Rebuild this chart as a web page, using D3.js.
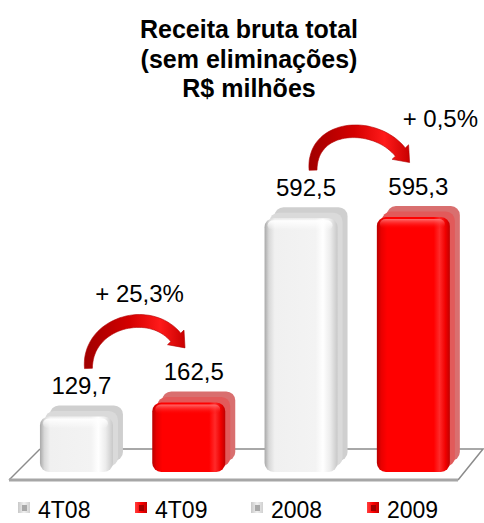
<!DOCTYPE html>
<html>
<head>
<meta charset="utf-8">
<script src="https://cdn.jsdelivr.net/npm/d3@7"></script>
<style>
html,body{margin:0;padding:0;background:#fff;}
svg{display:block;}
text{font-family:"Liberation Sans",Arial,sans-serif;}
</style>
</head>
<body>
<svg id="chart" width="484" height="523"></svg>
<script>
// ---- data ----
const titleLines = ["Receita bruta total", "(sem eliminações)", "R$ milhões"];
const categories = ["4T08", "4T09", "2008", "2009"];
const values = [129.7, 162.5, 592.5, 595.3];
const valueLabels = ["129,7", "162,5", "592,5", "595,3"];
const seriesKind = ["white", "red", "white", "red"];
const changeFrom = [0, 2];
const changeTo = [1, 3];
const changeLabels = ["+ 25,3%", "+ 0,5%"];

// ---- layout ----
const W = 484, H = 523;
const svg = d3.select("#chart");
const defs = svg.append("defs");

const x = d3.scaleBand().domain(categories).range([20.3, 469.5]).paddingInner(0.35).paddingOuter(0.175);
const y = d3.scaleLinear().domain([0, 600]).range([472, 215]);
const bw = x.bandwidth();
const DX = 10, DY = -11, R = 9;

// gradients
function grad(id, stops, x2 = "100%", y2 = "0%") {
  const g = defs.append("linearGradient").attr("id", id).attr("x1", "0%").attr("y1", "0%").attr("x2", x2).attr("y2", y2);
  stops.forEach(s => g.append("stop").attr("offset", s[0]).attr("stop-color", s[1]));
}
grad("frontWhite", [["0%", "#a8a8a8"], ["6%", "#d8d8d8"], ["14%", "#f0f0f0"], ["70%", "#f3f3f3"], ["80%", "#ffffff"], ["90%", "#ececec"], ["100%", "#c8c8c8"]]);
grad("frontRed", [["0%", "#b80000"], ["6%", "#e80000"], ["14%", "#ff0000"], ["78%", "#ff0000"], ["86%", "#ff2a2a"], ["94%", "#f00000"], ["100%", "#c00000"]]);
grad("topWhite", [["0%", "#ffffff"], ["100%", "rgba(255,255,255,0)"]], "0%", "100%");
grad("topRed", [["0%", "rgba(255,120,120,0.9)"], ["100%", "rgba(255,0,0,0)"]], "0%", "100%");
grad("arrowGrad", [["0%", "#a00000"], ["45%", "#d40000"], ["75%", "#ff1a1a"], ["100%", "#c80000"]]);
grad("swWhite", [["0%", "#c8c8c8"], ["50%", "#f0f0f0"], ["100%", "#d0d0d0"]]);
grad("swRed", [["0%", "#ff4040"], ["50%", "#ff0000"], ["100%", "#c00000"]]);

// floor
const floorPts = [[9, 480], [458, 480], [483, 449], [40, 449]];
svg.append("path")
  .attr("d", "M" + floorPts.map(p => p.join(",")).join("L") + "Z")
  .attr("fill", "#fff").attr("stroke", "none");
svg.append("path").attr("d", `M40,449L483,449L458,480`).attr("fill", "none").attr("stroke", "#8c8c8c").attr("stroke-width", 1.5);
svg.append("path").attr("d", `M40,449L9,480`).attr("fill", "none").attr("stroke", "#8c8c8c").attr("stroke-width", 1.5);
svg.append("path").attr("d", `M9,480L458,480`).attr("fill", "none").attr("stroke", "#a6a6a6").attr("stroke-width", 3);

// bars
const bars = svg.append("g").selectAll("g").data(categories).join("g");
bars.append("rect")
  .attr("x", d => x(d) + DX).attr("y", (d, i) => y(values[i]) + DY)
  .attr("width", bw).attr("height", (d, i) => y(0) - y(values[i]))
  .attr("rx", R).attr("ry", R)
  .attr("fill", (d, i) => seriesKind[i] === "red" ? "#d96f6f" : "#cfcfcf");
bars.append("rect")
  .attr("x", d => x(d) + DX * 0.5).attr("y", (d, i) => y(values[i]) + DY * 0.5)
  .attr("width", bw).attr("height", (d, i) => y(0) - y(values[i]))
  .attr("rx", R).attr("ry", R)
  .attr("fill", (d, i) => seriesKind[i] === "red" ? "#e25a5a" : "#dadada");
bars.append("rect")
  .attr("x", d => x(d)).attr("y", (d, i) => y(values[i]))
  .attr("width", bw).attr("height", (d, i) => y(0) - y(values[i]))
  .attr("rx", R).attr("ry", R)
  .attr("fill", (d, i) => seriesKind[i] === "red" ? "url(#frontRed)" : "url(#frontWhite)");
bars.append("rect")
  .attr("x", d => x(d) + 3).attr("y", (d, i) => y(values[i]) + 2)
  .attr("width", bw - 8).attr("height", 10)
  .attr("rx", 6).attr("ry", 6)
  .attr("fill", (d, i) => seriesKind[i] === "red" ? "url(#topRed)" : "url(#topWhite)");

// value labels
const labelY = i => y(values[i]) - 22;
svg.append("g").selectAll("text").data(categories).join("text")
  .attr("x", d => x(d) + bw / 2 + 5)
  .attr("y", (d, i) => labelY(i))
  .attr("text-anchor", "middle")
  .attr("font-size", 24)
  .attr("fill", "#000")
  .text((d, i) => valueLabels[i]);

// arrows
function arrowPath(p0, p3) {
  const p1 = [p0[0] - 2, p0[1] - 46];
  const p2 = [p3[0] - 26, p3[1] - 32];
  const bez = t => {
    const u = 1 - t;
    return [
      u*u*u*p0[0] + 3*u*u*t*p1[0] + 3*u*t*t*p2[0] + t*t*t*p3[0],
      u*u*u*p0[1] + 3*u*u*t*p1[1] + 3*u*t*t*p2[1] + t*t*t*p3[1]
    ];
  };
  const N = 40, left = [], right = [];
  for (let k = 0; k <= N; k++) {
    const t = k / N;
    const a = bez(Math.max(0, t - 0.01)), b = bez(Math.min(1, t + 0.01));
    let tx = b[0] - a[0], ty = b[1] - a[1];
    const L = Math.hypot(tx, ty); tx /= L; ty /= L;
    const nx = -ty, ny = tx;
    const w = (8 + 5 * Math.sin(Math.min(1, t * 1.3) * Math.PI / 2)) / 2;
    const c = bez(t);
    left.push([c[0] + nx * w, c[1] + ny * w]);
    right.push([c[0] - nx * w, c[1] - ny * w]);
  }
  // head
  const e = bez(1), e0 = bez(0.97);
  let tx = e[0] - e0[0], ty = e[1] - e0[1];
  const L = Math.hypot(tx, ty); tx /= L; ty /= L;
  const nx = -ty, ny = tx, hw = 11, hl = 14;
  const h1 = [e[0] + nx * hw, e[1] + ny * hw];
  const h2 = [e[0] - nx * hw, e[1] - ny * hw];
  const tip = [e[0] + tx * hl, e[1] + ty * hl];
  const pts = left.concat([h1, tip, h2]).concat(right.reverse());
  return "M" + pts.map(p => p[0].toFixed(1) + "," + p[1].toFixed(1)).join("L") + "Z";
}
const arrows = svg.append("g");
changeFrom.forEach((f, k) => {
  const t = changeTo[k];
  const p0 = [x(categories[f]) + bw / 2 + 12, labelY(f) - 26];
  const p3 = [x(categories[t]) + bw / 2 - 13, labelY(t) - 43];
  arrows.append("path").attr("d", arrowPath(p0, p3))
    .attr("fill", "url(#arrowGrad)").attr("stroke", "#b00000").attr("stroke-width", 0.6);
});

// change labels
const chg = svg.append("g");
chg.append("text")
  .attr("x", (x(categories[changeFrom[0]]) + x(categories[changeTo[0]])) / 2 + bw / 2 + 7)
  .attr("y", labelY(changeTo[0]) - 78)
  .attr("text-anchor", "middle").attr("font-size", 24).text(changeLabels[0]);
chg.append("text")
  .attr("x", x(categories[changeTo[1]]) + bw / 2 + 27)
  .attr("y", labelY(changeTo[1]) - 68)
  .attr("text-anchor", "middle").attr("font-size", 24).text(changeLabels[1]);

// title
svg.append("g").selectAll("text").data(titleLines).join("text")
  .attr("x", 249).attr("y", (d, i) => 38 + i * 29.5)
  .attr("text-anchor", "middle")
  .attr("font-size", 25).attr("font-weight", "bold")
  .text(d => d);

// legend
const legX = [18, 135, 251, 367];
const leg = svg.append("g").selectAll("g").data(categories).join("g")
  .attr("transform", (d, i) => `translate(${legX[i]},502)`);
leg.append("rect").attr("width", 12).attr("height", 11)
  .attr("fill", (d, i) => seriesKind[i] === "red" ? "url(#swRed)" : "url(#swWhite)");
leg.append("rect").attr("x", 4).attr("y", 3).attr("width", 5).attr("height", 6)
  .attr("fill", (d, i) => seriesKind[i] === "red" ? "#a00000" : "#a8a8a8");
leg.append("text").attr("x", 20).attr("y", 16)
  .attr("font-size", 23).text(d => d);
</script>
</body>
</html>
